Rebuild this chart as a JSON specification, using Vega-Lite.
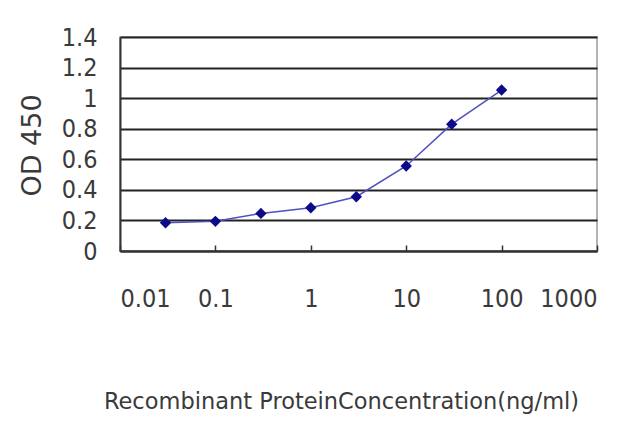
{
  "$schema": "https://vega.github.io/schema/vega-lite/v6.json",
  "width": 477,
  "height": 214,
  "autosize": {"type": "none"},
  "padding": {"left": 120, "top": 37, "right": 43, "bottom": 176},
  "background": "white",
  "config": {
    "view": {"stroke": "#9a9a9a", "strokeWidth": 1.5},
    "axis": {"labelFont": "DejaVu Sans Condensed", "titleFont": "DejaVu Sans", "labelColor": "#3a3a3a", "titleColor": "#3a3a3a", "titleFontWeight": "normal"}
  },
  "data": {
    "values": [
      {"conc": 0.03, "od": 0.185},
      {"conc": 0.1, "od": 0.194},
      {"conc": 0.3, "od": 0.246},
      {"conc": 1, "od": 0.283},
      {"conc": 3, "od": 0.355},
      {"conc": 10, "od": 0.556},
      {"conc": 30, "od": 0.83},
      {"conc": 100, "od": 1.053}
    ]
  },
  "encoding": {
    "x": {
      "field": "conc", "type": "quantitative",
      "scale": {"type": "log", "domain": [0.01, 1000], "nice": false},
      "axis": {
        "values": [0.01, 0.1, 1, 10, 100, 1000],
        "labelExpr": "datum.value >= 1 ? format(datum.value, 'd') : format(datum.value, '~g')",
        "grid": false,
        "domainColor": "#333", "domainWidth": 2,
        "tickColor": "#333", "tickSize": -6, "tickWidth": 1.5,
        "labelFontSize": 25, "labelPadding": 41,
        "title": "Recombinant ProteinConcentration(ng/ml)",
        "titleFontSize": 22.5, "titleX": 221, "titleY": 150,
        "titleBaseline": "middle", "titleAnchor": "middle"
      }
    },
    "y": {
      "field": "od", "type": "quantitative",
      "scale": {"domain": [0, 1.4], "nice": false},
      "axis": {
        "values": [0, 0.2, 0.4, 0.6, 0.8, 1, 1.2, 1.4],
        "format": "~g",
        "grid": true, "gridColor": "#222", "gridWidth": 1.8,
        "domainColor": "#333", "domainWidth": 2,
        "ticks": false,
        "labelFontSize": 25, "labelPadding": 23,
        "title": "OD 450",
        "titleFontSize": 27, "titleAngle": -90,
        "titleX": -88, "titleY": 108, "titleBaseline": "middle", "titleAnchor": "middle"
      }
    }
  },
  "layer": [
    {"mark": {"type": "line", "color": "#5050c0", "strokeWidth": 1.5}},
    {"mark": {"type": "point", "shape": "diamond", "filled": true, "color": "#0a0a8a", "size": 130, "opacity": 1}}
  ]
}
